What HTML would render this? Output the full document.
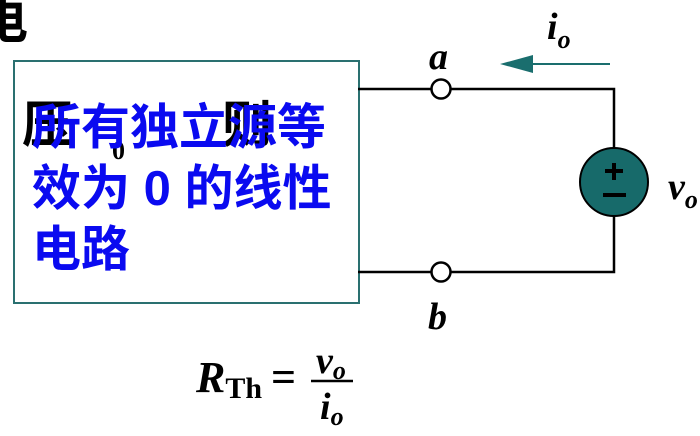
<!DOCTYPE html>
<html><head><meta charset="utf-8"><style>
body{margin:0;width:700px;height:436px;background:#fff;overflow:hidden;position:relative;font-family:"Liberation Serif",serif}
.t{position:absolute;white-space:nowrap;line-height:1}
.cn{font-family:"Liberation Sans","Noto Sans CJK SC",sans-serif;font-weight:bold}
</style></head><body>
<div class="t cn" style="left:-22px;top:-4px;font-size:50px;color:#000">电</div>
<div style="position:absolute;left:13px;top:60px;width:343px;height:240px;border:2px solid #2a7070;background:#fff"></div>
<div class="t cn" style="left:22px;top:100px;font-size:50px;color:#000">压</div>
<div class="t" style="left:112px;top:138px;font-size:26px;font-weight:bold;color:#000">0</div>
<div class="t cn" style="left:222px;top:100px;font-size:50px;color:#000">则</div>
<div class="t cn" style="left:32px;top:98px;font-size:49px;line-height:61px;color:#0a0af0">所有独立源等<br>效为 0 的线性<br>电路</div>
<svg style="position:absolute;left:0;top:0" width="700" height="436">
<g stroke="#000" stroke-width="2.5" fill="none">
<path d="M358 89H614V148M614 216V272H358"/>
</g>
<circle cx="441" cy="89" r="9.5" fill="#fff" stroke="#000" stroke-width="2.5"/>
<circle cx="441" cy="272" r="9.5" fill="#fff" stroke="#000" stroke-width="2.5"/>
<circle cx="614" cy="182" r="34" fill="#176a6a" stroke="#000" stroke-width="2"/>
<path d="M614 163V180M605 171H623M603 195H626" stroke="#000" stroke-width="4"/>
<path d="M530 64H610" stroke="#1a6e6e" stroke-width="2"/>
<path d="M500 64L533 55V73Z" fill="#1a6e6e"/>
<line x1="311" y1="381" x2="353" y2="381" stroke="#000" stroke-width="2.5"/>
</svg>
<div class="t" style="left:429px;top:38px;font-size:38px;font-style:italic;font-weight:bold">a</div>
<div class="t" style="left:428px;top:298px;font-size:38px;font-style:italic;font-weight:bold">b</div>
<div class="t" style="left:547px;top:8px;font-size:38px;font-style:italic;font-weight:bold">i<span style="font-size:26px;position:relative;top:9px">o</span></div>
<div class="t" style="left:668px;top:168px;font-size:38px;font-style:italic;font-weight:bold">v<span style="font-size:26px;position:relative;top:9px">o</span></div>
<div class="t" style="left:196px;top:356px;font-size:44px;font-style:italic;font-weight:bold">R<span style="font-style:normal;font-size:30px;position:relative;top:6px">Th</span></div>
<div class="t" style="left:271px;top:356px;font-size:44px;font-weight:bold">=</div>
<div class="t" style="left:316px;top:342px;font-size:38px;font-style:italic;font-weight:bold">v<span style="font-size:26px;position:relative;top:6px">o</span></div>
<div class="t" style="left:320px;top:388px;font-size:38px;font-style:italic;font-weight:bold">i<span style="font-size:26px;position:relative;top:6px">o</span></div>
</body></html>
